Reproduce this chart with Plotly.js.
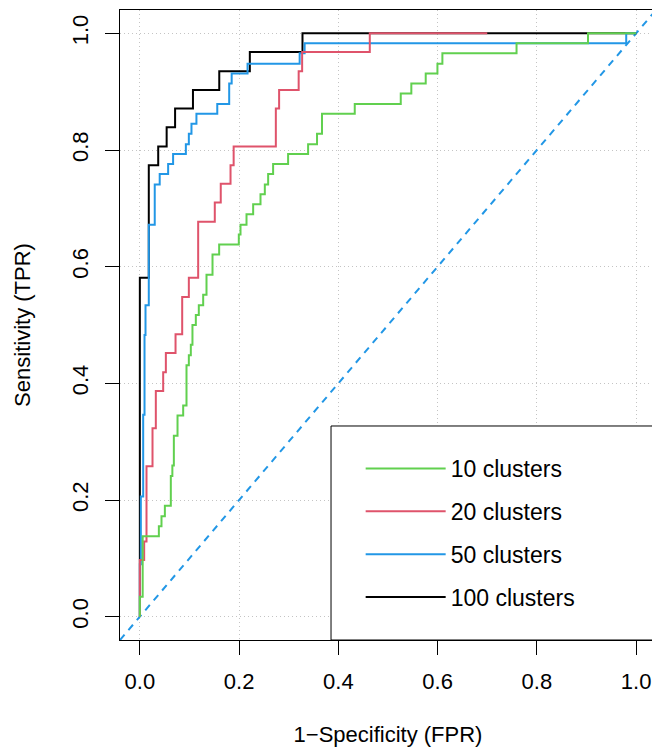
<!DOCTYPE html>
<html><head><meta charset="utf-8">
<script src="https://cdn.plot.ly/plotly-3.0.1.min.js"></script>
<style>html,body{margin:0;padding:0;overflow:hidden;background:#fff}#chart{width:656px;height:748px}</style>
</head><body><div id="chart"></div>
<script>
const seriesNames = ["10 clusters", "20 clusters", "50 clusters", "100 clusters"];
const seriesColors = ["#61D04F", "#DF536B", "#2297E6", "#000000"];

// 10 clusters (FPR, TPR) step corners
const fpr10 = [0, 0, 0.0057, 0.0383, 0.0436, 0.0504, 0.0624, 0.0655, 0.0685, 0.0759, 0.0873, 0.094, 0.0987, 0.1027, 0.106, 0.1128, 0.1188, 0.1276, 0.1343, 0.1464, 0.1598, 0.1994, 0.2028, 0.2149, 0.2283, 0.2431, 0.2518, 0.2585, 0.2685, 0.2987, 0.339, 0.357, 0.367, 0.433, 0.5257, 0.547, 0.576, 0.5996, 0.6096, 0.759, 0.903, 1.0];
const tpr10 = [0, 0.034, 0.138, 0.155, 0.172, 0.190, 0.241, 0.259, 0.310, 0.345, 0.362, 0.431, 0.448, 0.466, 0.500, 0.517, 0.534, 0.552, 0.586, 0.621, 0.638, 0.655, 0.672, 0.690, 0.707, 0.724, 0.741, 0.759, 0.776, 0.793, 0.810, 0.828, 0.862, 0.879, 0.897, 0.914, 0.931, 0.948, 0.966, 0.983, 1.0, 1.0];

// 20 clusters
const fpr20 = [0, 0, 0.0087, 0.0134, 0.0255, 0.0322, 0.047, 0.0524, 0.0719, 0.0853, 0.0987, 0.1175, 0.151, 0.163, 0.1827, 0.189, 0.274, 0.2806, 0.320, 0.327, 0.4633, 0.70];
const tpr20 = [0, 0.097, 0.129, 0.258, 0.323, 0.387, 0.419, 0.452, 0.484, 0.548, 0.581, 0.677, 0.710, 0.742, 0.774, 0.806, 0.871, 0.903, 0.935, 0.968, 1.0, 1.0];

// 50 clusters
const fpr50 = [0, 0, 0.002, 0.0067, 0.0094, 0.0114, 0.018, 0.030, 0.040, 0.057, 0.067, 0.0927, 0.0987, 0.104, 0.114, 0.156, 0.180, 0.185, 0.217, 0.322, 0.332, 0.980, 1.0];
const tpr50 = [0, 0.09, 0.206, 0.346, 0.483, 0.534, 0.672, 0.741, 0.759, 0.776, 0.793, 0.810, 0.828, 0.845, 0.862, 0.879, 0.914, 0.931, 0.948, 0.966, 0.983, 1.0, 1.0];

// 100 clusters
const fpr100 = [0, 0, 0.018, 0.037, 0.054, 0.071, 0.107, 0.160, 0.2216, 0.3277, 1.0];
const tpr100 = [0, 0.581, 0.774, 0.806, 0.839, 0.871, 0.903, 0.935, 0.968, 1.0, 1.0];

const tickVals = [0, 0.2, 0.4, 0.6, 0.8, 1.0];
const tickText = ["0.0", "0.2", "0.4", "0.6", "0.8", "1.0"];
const axisRange = [-0.04, 1.04];

const FONT = "Liberation Sans, Arial, Helvetica, sans-serif";

function curve(x, y, i, rank) {
  return {
    x: x, y: y, type: "scatter", mode: "lines",
    line: {shape: "hv", color: seriesColors[i], width: 2},
    name: seriesNames[i], legendgroup: "g" + i, legendrank: rank,
    hoverinfo: "skip"
  };
}

const traces = [
  {x: axisRange, y: axisRange, type: "scatter", mode: "lines",
   line: {color: "#2297E6", width: 2, dash: "7px,6px"}, showlegend: false, hoverinfo: "skip"},
  curve(fpr100, tpr100, 3, 4),
  curve(fpr50, tpr50, 2, 3),
  curve(fpr20, tpr20, 1, 2),
  curve(fpr10, tpr10, 0, 1)
];

const axisCommon = {
  range: axisRange, tickvals: tickVals, ticktext: tickText,
  showgrid: true, gridcolor: "#c4c4c4", gridwidth: 1, griddash: "1px,3px",
  zeroline: false, showline: true, mirror: true, linecolor: "#000", linewidth: 1,
  ticks: "outside", ticklen: 14, tickcolor: "#000", tickwidth: 1,
  ticklabelstandoff: 8,
  tickfont: {family: FONT, size: 22, color: "#000"}, automargin: false
};

const layout = {
  width: 656, height: 748, autosize: false,
  margin: {l: 120, r: 0, t: 10, b: 108, pad: 0},
  paper_bgcolor: "#fff", plot_bgcolor: "#fff",
  font: {family: FONT, size: 22, color: "#000"},
  xaxis: Object.assign({}, axisCommon, {
    title: {text: "1\u2212Specificity (FPR)", font: {family: FONT, size: 22, color: "#000"}, standoff: 33}
  }),
  yaxis: Object.assign({}, axisCommon, {
    tickangle: -90,
    title: {text: "Sensitivity (TPR)", font: {family: FONT, size: 22, color: "#000"}, standoff: 31}
  }),
  showlegend: true,
  legend: {
    x: 0.449, y: 0.3064, xanchor: "left", yanchor: "top",
    bgcolor: "rgba(0,0,0,0)", borderwidth: 0,
    font: {family: FONT, size: 23, color: "#000"},
    itemwidth: 80, tracegroupgap: 10, traceorder: "grouped"
  },
  shapes: [{
    type: "rect", xref: "paper", yref: "paper", x0: 0.3937, x1: 1.0, y0: 0, y1: 0.3397,
    fillcolor: "#fff", line: {color: "#000", width: 1}, layer: "above"
  }]
};

Plotly.newPlot("chart", traces, layout, {displayModeBar: false, staticPlot: true});
</script>
</body></html>
